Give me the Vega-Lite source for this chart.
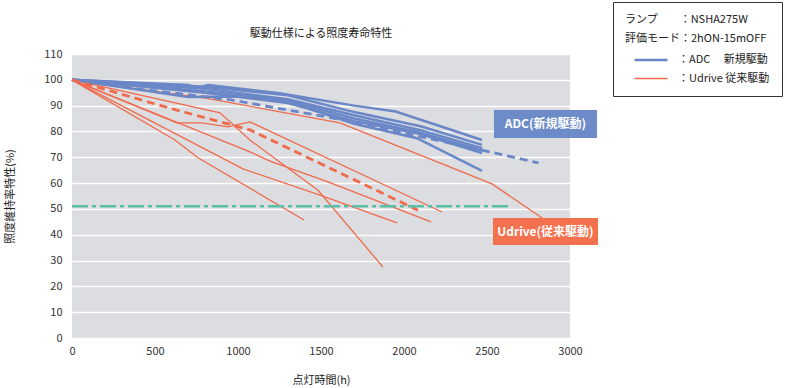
{
  "$schema": "https://vega.github.io/schema/vega-lite/v6.json",
  "width": 498,
  "height": 284,
  "autosize": {"type": "none"},
  "padding": {"left": 72, "top": 54, "right": 217, "bottom": 50},
  "background": "white",
  "title": {"text": "駆動仕様による照度寿命特性", "fontSize": 11, "fontWeight": "normal", "font": "Noto Sans CJK JP", "color": "#222", "offset": 15, "frame": "group", "dy": 52},
  "config": {
    "view": {"fill": "#dcdde0", "stroke": null},
    "font": "Noto Sans CJK JP",
    "axis": {"labelFont": "Noto Sans CJK JP", "titleFont": "Noto Sans CJK JP", "labelFontSize": 11, "titleFontSize": 11, "titleFontWeight": "normal", "labelColor": "#333", "titleColor": "#222", "ticks": false, "domain": false, "labelOverlap": false, "labelFlush": false}
  },
  "datasets": {
    "lines": [
      {"s": "R1", "g": "Udrive", "t": 0, "v": 100}, {"s": "R1", "g": "Udrive", "t": 831, "v": 92.6}, {"s": "R1", "g": "Udrive", "t": 1614, "v": 83.3}, {"s": "R1", "g": "Udrive", "t": 2530, "v": 59.7}, {"s": "R1", "g": "Udrive", "t": 2850, "v": 45.7},
      {"s": "R2", "g": "Udrive", "t": 0, "v": 100}, {"s": "R2", "g": "Udrive", "t": 631, "v": 83.3}, {"s": "R2", "g": "Udrive", "t": 783, "v": 83.3}, {"s": "R2", "g": "Udrive", "t": 940, "v": 81.8}, {"s": "R2", "g": "Udrive", "t": 1072, "v": 83.7}, {"s": "R2", "g": "Udrive", "t": 2229, "v": 48.8},
      {"s": "R3", "g": "Udrive", "t": 0, "v": 100}, {"s": "R3", "g": "Udrive", "t": 892, "v": 87.2}, {"s": "R3", "g": "Udrive", "t": 1072, "v": 76.7}, {"s": "R3", "g": "Udrive", "t": 1482, "v": 57.2}, {"s": "R3", "g": "Udrive", "t": 1873, "v": 27.5},
      {"s": "R4", "g": "Udrive", "t": 0, "v": 100}, {"s": "R4", "g": "Udrive", "t": 1072, "v": 72.1}, {"s": "R4", "g": "Udrive", "t": 1193, "v": 68.5}, {"s": "R4", "g": "Udrive", "t": 1542, "v": 60.5}, {"s": "R4", "g": "Udrive", "t": 2163, "v": 45},
      {"s": "R5", "g": "Udrive", "t": 0, "v": 100}, {"s": "R5", "g": "Udrive", "t": 1030, "v": 65.5}, {"s": "R5", "g": "Udrive", "t": 1494, "v": 55.3}, {"s": "R5", "g": "Udrive", "t": 1958, "v": 44.6},
      {"s": "R6", "g": "Udrive", "t": 0, "v": 100}, {"s": "R6", "g": "Udrive", "t": 620, "v": 76.7}, {"s": "R6", "g": "Udrive", "t": 759, "v": 69.8}, {"s": "R6", "g": "Udrive", "t": 1398, "v": 45.7},
      {"s": "B1", "g": "ADC", "t": 0, "v": 100}, {"s": "B1", "g": "ADC", "t": 700, "v": 98}, {"s": "B1", "g": "ADC", "t": 750, "v": 96.8}, {"s": "B1", "g": "ADC", "t": 820, "v": 98}, {"s": "B1", "g": "ADC", "t": 1250, "v": 94.8}, {"s": "B1", "g": "ADC", "t": 1700, "v": 90}, {"s": "B1", "g": "ADC", "t": 1950, "v": 87.7}, {"s": "B1", "g": "ADC", "t": 2470, "v": 76.7},
      {"s": "B2", "g": "ADC", "t": 0, "v": 100}, {"s": "B2", "g": "ADC", "t": 800, "v": 97.3}, {"s": "B2", "g": "ADC", "t": 1300, "v": 94}, {"s": "B2", "g": "ADC", "t": 1700, "v": 87.5}, {"s": "B2", "g": "ADC", "t": 2100, "v": 82}, {"s": "B2", "g": "ADC", "t": 2470, "v": 74.8},
      {"s": "B3", "g": "ADC", "t": 0, "v": 100}, {"s": "B3", "g": "ADC", "t": 800, "v": 96.5}, {"s": "B3", "g": "ADC", "t": 1300, "v": 92.5}, {"s": "B3", "g": "ADC", "t": 1700, "v": 86.3}, {"s": "B3", "g": "ADC", "t": 2100, "v": 80.5}, {"s": "B3", "g": "ADC", "t": 2470, "v": 73.5},
      {"s": "B4", "g": "ADC", "t": 0, "v": 100}, {"s": "B4", "g": "ADC", "t": 800, "v": 95.5}, {"s": "B4", "g": "ADC", "t": 1300, "v": 92}, {"s": "B4", "g": "ADC", "t": 1700, "v": 85}, {"s": "B4", "g": "ADC", "t": 2100, "v": 79.5}, {"s": "B4", "g": "ADC", "t": 2470, "v": 72.5},
      {"s": "B5", "g": "ADC", "t": 0, "v": 100}, {"s": "B5", "g": "ADC", "t": 800, "v": 95}, {"s": "B5", "g": "ADC", "t": 1300, "v": 91}, {"s": "B5", "g": "ADC", "t": 1700, "v": 84}, {"s": "B5", "g": "ADC", "t": 2100, "v": 79}, {"s": "B5", "g": "ADC", "t": 2470, "v": 71.6},
      {"s": "B6", "g": "ADC", "t": 0, "v": 100}, {"s": "B6", "g": "ADC", "t": 700, "v": 93.3}, {"s": "B6", "g": "ADC", "t": 1000, "v": 93.5}, {"s": "B6", "g": "ADC", "t": 1300, "v": 91.5}, {"s": "B6", "g": "ADC", "t": 1700, "v": 83}, {"s": "B6", "g": "ADC", "t": 2078, "v": 77.4}, {"s": "B6", "g": "ADC", "t": 2470, "v": 64.7}
    ],
    "means": [
      {"s": "BM", "g": "ADC", "t": 0, "v": 100}, {"s": "BM", "g": "ADC", "t": 400, "v": 96.5}, {"s": "BM", "g": "ADC", "t": 950, "v": 92.3}, {"s": "BM", "g": "ADC", "t": 1633, "v": 84.5}, {"s": "BM", "g": "ADC", "t": 2470, "v": 72.8}, {"s": "BM", "g": "ADC", "t": 2810, "v": 67.8},
      {"s": "RM", "g": "Udrive", "t": 0, "v": 100}, {"s": "RM", "g": "Udrive", "t": 590, "v": 89}, {"s": "RM", "g": "Udrive", "t": 1072, "v": 80.6}, {"s": "RM", "g": "Udrive", "t": 2084, "v": 49.5}
    ],
    "threshold": [{"t": 0, "v": 51}, {"t": 2650, "v": 51}],
    "boxes": [
      {"g": "ADC", "label": "ADC(新規駆動)", "t": 2542, "t2": 3163, "v": 77.5, "v2": 88.3, "tc": 2852, "vc": 82.9},
      {"g": "Udrive", "label": "Udrive(従来駆動)", "t": 2536, "t2": 3169, "v": 36, "v2": 46.5, "tc": 2852, "vc": 41.2}
    ]
  },
  "encoding": {
    "x": {"field": "t", "type": "quantitative", "scale": {"domain": [0, 3000], "nice": false}, "axis": {"title": "点灯時間(h)", "values": [0, 500, 1000, 1500, 2000, 2500, 3000], "tickCount": 10, "format": "d", "grid": false, "labelPadding": 7, "titlePadding": 18}},
    "y": {"field": "v", "type": "quantitative", "scale": {"domain": [0, 110], "nice": false}, "axis": {"title": "照度維持率特性(%)", "values": [0, 10, 20, 30, 40, 50, 60, 70, 80, 90, 100, 110], "tickCount": 15, "format": "d", "grid": true, "gridColor": "white", "gridWidth": 1.5, "gridOpacity": 1, "labelPadding": 10, "titlePadding": 28}}
  },
  "layer": [
    {
      "data": {"name": "lines"},
      "transform": [{"filter": "datum.g == 'Udrive'"}],
      "mark": {"type": "line"},
      "encoding": {
        "detail": {"field": "s"},
        "color": {"field": "g", "type": "nominal", "scale": {"domain": ["ADC", "Udrive"], "range": ["#6a87c7", "#f06a4b"]}, "legend": {"orient": "none", "legendX": 541, "legendY": -52, "title": ["ランプ　　：NSHA275W", "評価モード：2hON-15mOFF"], "titleFontSize": 11, "titleFontWeight": "normal", "titleLineHeight": 19, "titleColor": "#222", "titlePadding": 9, "labelFontSize": 11, "labelColor": "#222", "labelExpr": "datum.label == 'ADC' ? '：ADC　 新規駆動' : '：Udrive 従来駆動'", "symbolType": "M-3,0H3", "symbolSize": 121, "symbolOffset": 19, "labelOffset": 20, "rowPadding": 7, "padding": 12, "strokeColor": "#333", "fillColor": "white"}},
        "strokeWidth": {"field": "g", "type": "nominal", "scale": {"domain": ["ADC", "Udrive"], "range": [2.5, 1.3]}, "legend": {"orient": "none", "legendX": 541, "legendY": -52, "title": ["ランプ　　：NSHA275W", "評価モード：2hON-15mOFF"]}}
      }
    },
    {
      "data": {"name": "lines"},
      "transform": [{"filter": "datum.g == 'ADC'"}],
      "mark": {"type": "line"},
      "encoding": {
        "detail": {"field": "s"},
        "color": {"field": "g", "type": "nominal"},
        "strokeWidth": {"field": "g", "type": "nominal"}
      }
    },
    {
      "data": {"name": "means"},
      "mark": {"type": "line", "strokeWidth": 2.8, "strokeDash": [8, 5]},
      "encoding": {
        "detail": {"field": "s"},
        "color": {"field": "g", "type": "nominal"}
      }
    },
    {
      "data": {"name": "threshold"},
      "mark": {"type": "line", "color": "#5bbfa5", "strokeWidth": 2.5, "strokeDash": [16, 4, 4, 4]},
      "encoding": {}
    },
    {
      "data": {"name": "boxes"},
      "mark": {"type": "rect"},
      "encoding": {
        "x2": {"field": "t2"},
        "y2": {"field": "v2"},
        "fill": {"field": "g", "type": "nominal", "scale": {"domain": ["ADC", "Udrive"], "range": ["#6d8bc9", "#f4714f"]}, "legend": null}
      }
    },
    {
      "data": {"name": "boxes"},
      "mark": {"type": "text", "color": "white", "fontWeight": "bold", "fontSize": 12, "font": "Noto Sans CJK JP"},
      "encoding": {
        "x": {"field": "tc", "type": "quantitative"},
        "y": {"field": "vc", "type": "quantitative"},
        "text": {"field": "label"}
      }
    }
  ]
}
